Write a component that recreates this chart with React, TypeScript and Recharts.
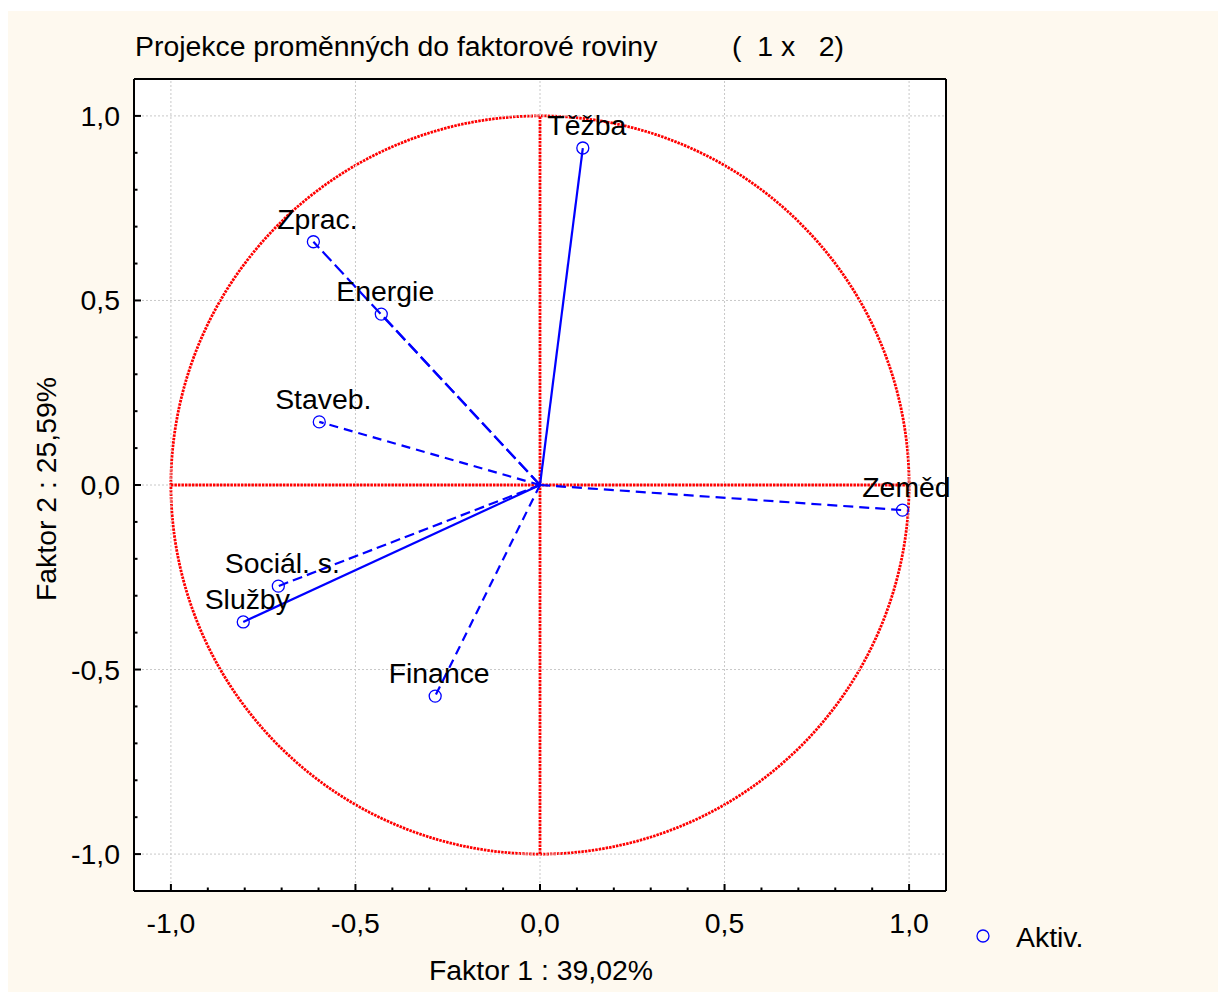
import React from "react";
import {
  ScatterChart,
  Scatter,
  XAxis,
  YAxis,
  CartesianGrid,
  ReferenceLine,
  ReferenceArea,
} from "recharts";

const variables = ["Těžba", "Zprac.", "Energie", "Staveb.", "Zeměd", "Sociál. s.", "Služby", "Finance"];
const factor1 = [0.116, -0.614, -0.43, -0.598, 0.982, -0.709, -0.804, -0.284];
const factor2 = [0.913, 0.659, 0.463, 0.171, -0.068, -0.274, -0.371, -0.572];
const axisTicks = [
  -1.0, -0.9, -0.8, -0.7, -0.6, -0.5, -0.4, -0.3, -0.2, -0.1, 0,
  0.1, 0.2, 0.3, 0.4, 0.5, 0.6, 0.7, 0.8, 0.9, 1.0,
];
const gridValues = [-1, -0.5, 0, 0.5, 1];

// dash style of each vector, same order as variables
const vectorDash = ["", "13 5", "13 5", "9 6", "10 6", "10 5", "", "9 6"];

const FONT = "Arial, 'Liberation Sans', sans-serif";
const FS = 28.4;
const BLUE = "#0000ff";
const RED = "#ff0000";
const CREAM = "#fef9ef";

const points = variables.map((name, i) => ({ name, x: factor1[i], y: factor2[i] }));

const isMajor = (v: number) => Math.abs(v * 2 - Math.round(v * 2)) < 1e-6;
const fmt = (v: number) => (Math.abs(v) < 1e-9 ? "0,0" : v.toFixed(1).replace(".", ","));

const tick = (side: "bottom" | "top" | "left" | "right") => (props: any) => {
  const { x, y, payload } = props;
  const v = payload.value;
  const len = isMajor(v) ? 7 : 3.5;
  const line =
    side === "bottom" ? <line x1={x} y1={y} x2={x} y2={y - len} /> :
    side === "top" ? <line x1={x} y1={y} x2={x} y2={y + len} /> :
    side === "left" ? <line x1={x} y1={y} x2={x + len} y2={y} /> :
    <line x1={x} y1={y} x2={x - len} y2={y} />;
  return (
    <g stroke="#000" strokeWidth={2}>
      {line}
      {side === "bottom" && isMajor(v) && (
        <text x={x} y={y + 42} textAnchor="middle" stroke="none" fill="#000" fontSize={FS} fontFamily={FONT}>
          {fmt(v)}
        </text>
      )}
      {side === "left" && isMajor(v) && (
        <text x={x - 14} y={y + 10} textAnchor="end" stroke="none" fill="#000" fontSize={FS} fontFamily={FONT}>
          {fmt(v)}
        </text>
      )}
    </g>
  );
};

const PointShape = (props: any) => {
  const { cx, cy, payload } = props;
  return (
    <g>
      <circle cx={cx} cy={cy} r={6} fill="none" stroke={BLUE} strokeWidth={1.3} />
      <text x={cx + 4} y={cy - 13} textAnchor="middle" fill="#000" fontSize={FS} fontFamily={FONT}>
        {payload.name}
      </text>
    </g>
  );
};

const UnitCircle = (props: any) => {
  const { x, y, width, height } = props;
  return (
    <ellipse
      cx={x + width / 2}
      cy={y + height / 2}
      rx={Math.abs(width) / 2}
      ry={Math.abs(height) / 2}
      fill="none"
      stroke={RED}
      strokeWidth={2.8}
      strokeDasharray="2.5 1"
    />
  );
};

const axisCommon = {
  type: "number" as const,
  domain: [-1.1, 1.1],
  ticks: axisTicks,
  interval: 0 as const,
  tickSize: 0,
  tickMargin: 0,
  tickLine: false,
  axisLine: { stroke: "#000", strokeWidth: 2 },
};

export default function App() {
  return (
    <div style={{ position: "relative", width: 1218, height: 981, marginTop: 3, background: CREAM }}>
      <ScatterChart width={1218} height={981} margin={{ top: 67, left: 125, right: 279, bottom: 100 }}>
        <CartesianGrid horizontal={false} vertical={false} fill="#ffffff" fillOpacity={1} />
        {gridValues.map((v) => (
          <ReferenceLine key={"gx" + v} x={v} stroke="#c8c8c8" strokeDasharray="2 2" strokeWidth={1} />
        ))}
        {gridValues.map((v) => (
          <ReferenceLine key={"gy" + v} y={v} stroke="#c8c8c8" strokeDasharray="2 2" strokeWidth={1} />
        ))}
        <ReferenceArea x1={-1} x2={1} y1={-1} y2={1} shape={UnitCircle} ifOverflow="visible" />
        <ReferenceLine
          segment={[{ x: -1, y: 0 }, { x: 1, y: 0 }]}
          stroke={RED}
          strokeWidth={2.8}
          strokeDasharray="2.5 1"
        />
        <ReferenceLine
          segment={[{ x: 0, y: -1 }, { x: 0, y: 1 }]}
          stroke={RED}
          strokeWidth={2.8}
          strokeDasharray="2.5 1"
        />
        {points.map((p, i) => (
          <ReferenceLine
            key={"v" + p.name}
            segment={[{ x: 0, y: 0 }, { x: p.x, y: p.y }]}
            stroke={BLUE}
            strokeWidth={2.2}
            strokeDasharray={vectorDash[i] || undefined}
          />
        ))}
        <XAxis {...axisCommon} dataKey="x" height={1} tick={tick("bottom")} />
        <XAxis {...axisCommon} xAxisId="top" orientation="top" height={1} tick={tick("top")} />
        <YAxis {...axisCommon} dataKey="y" width={1} tick={tick("left")} />
        <YAxis {...axisCommon} yAxisId="right" orientation="right" width={1} tick={tick("right")} />
        <Scatter data={points} shape={PointShape} isAnimationActive={false} />
      </ScatterChart>
      <svg
        width={1218}
        height={981}
        style={{ position: "absolute", left: 0, top: 0, pointerEvents: "none" }}
        fontFamily={FONT}
        fontSize={FS}
      >
        <text x={127} y={45} fill="#000">Projekce proměnných do faktorové roviny</text>
        <text x={724} y={45} fill="#000" style={{ whiteSpace: "pre" }}>{"(  1 x   2)"}</text>
        <text x={533} y={969} textAnchor="middle" fill="#000">Faktor 1 : 39,02%</text>
        <text transform="translate(48,478) rotate(-90)" textAnchor="middle" fill="#000">
          Faktor 2 : 25,59%
        </text>
        <circle cx={975} cy={925} r={6} fill="none" stroke={BLUE} strokeWidth={1.3} />
        <text x={1008} y={936} fill="#000">Aktiv.</text>
      </svg>
    </div>
  );
}
